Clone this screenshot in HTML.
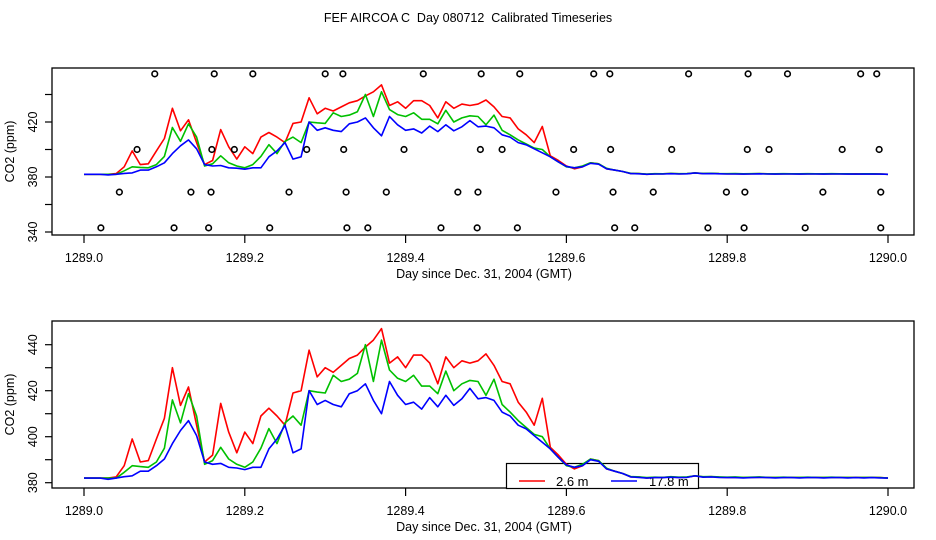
<!DOCTYPE html>
<html><head><meta charset="utf-8"><style>
html,body{margin:0;padding:0;background:#fff;}
svg{display:block;font-family:"Liberation Sans",sans-serif;}
</style></head><body>
<svg id="chart" width="936" height="540" viewBox="0 0 936 540" xmlns="http://www.w3.org/2000/svg">
<rect width="936" height="540" fill="#fff"/>
<text x="468" y="22" text-anchor="middle" font-size="12.5" xml:space="preserve">FEF AIRCOA C  Day 080712  Calibrated Timeseries</text>
<g id="top"></g>
<g id="bot"></g>
</svg>
<script>
const days = [];
for (let i = 0; i <= 100; i++) days.push(1289 + i / 100);
const red = [382,382,382,382,382.5,387.4,399,389,389.6,399,408,430,413.6,421.6,405,389,392,414.5,402,393,402,397,409,412.4,409,405,419,420,437.6,426,430,428,431,434,435.5,439,442,447,432,434.7,430,435.5,435.5,432,423,434.7,430,433,432,433,436,431,424,423,415,410.7,405,416.7,395.4,392,388,386,387.4,390.3,389.6,386,385,384,382.5,382.5,382,382.3,382.3,382.5,382.3,382.4,383,382.5,382.6,382.4,382.3,382.3,382.2,382.3,382.4,382.3,382.2,382.3,382.3,382.2,382.3,382.3,382.2,382.3,382.3,382.2,382.3,382.2,382.3,382.2,382];
const green = [382,382,382,382,382,384.5,387.4,387,386.7,389,395,416,406,418.7,409,388,389.6,395.4,390.3,388,386.7,389,395,403.5,397,406,409,405,420,419.4,419,426.7,424,425,427.5,440,424,442,429,425.4,424,426.7,422,422,418.7,428.5,420,423,424.5,424,418,425,414,410.7,407,404,401,400,394.7,391,387.4,386.7,388,390.3,389.6,386.3,385,384,382.7,382.5,382.2,382.4,382.3,382.6,382.4,382.5,383,382.6,382.7,382.5,382.4,382.5,382.3,382.4,382.5,382.3,382.3,382.4,382.3,382.3,382.4,382.3,382.3,382.4,382.3,382.3,382.2,382.3,382.3,382.2,382];
const blue = [382,382,382,381.5,382,382.6,383,385,385,387.4,390.3,397,402.7,407,400.5,389,388,388.4,386.7,386.4,385.7,386.7,386.7,394.7,399,405,393,394.7,420,414,415.8,414,413,418.7,420,423,415.8,410,424,418,414,415,412,417,413,418,413.6,416.5,421,416.5,417,415.8,410.7,409,405,403.4,400.5,397.6,394.7,391,387.7,386.7,387.4,390,389.3,386,385,384,382.5,382.3,382,382.2,382.2,382.4,382.2,382.3,383,382.4,382.5,382.3,382.2,382.2,382.1,382.2,382.3,382.2,382.1,382.2,382.2,382.1,382.2,382.2,382.1,382.2,382.2,382.1,382.2,382.1,382.2,382.1,382];
const ptDays455 = [1289.088,1289.162,1289.210,1289.300,1289.322,1289.422,1289.494,1289.542,1289.634,1289.654,1289.752,1289.826,1289.875,1289.966,1289.986];
const ptDays400 = [1289.066,1289.159,1289.187,1289.277,1289.323,1289.398,1289.493,1289.520,1289.609,1289.655,1289.731,1289.825,1289.852,1289.943,1289.989];
const ptDays369 = [1289.044,1289.133,1289.158,1289.255,1289.326,1289.376,1289.465,1289.490,1289.587,1289.658,1289.708,1289.799,1289.822,1289.919,1289.991];
const ptDays343 = [1289.021,1289.112,1289.155,1289.231,1289.327,1289.353,1289.444,1289.489,1289.539,1289.660,1289.685,1289.776,1289.821,1289.897,1289.991];
const xTicks = [1289.0,1289.2,1289.4,1289.6,1289.8,1290.0];
const xTickLabels = ["1289.0","1289.2","1289.4","1289.6","1289.8","1290.0"];
const topYTicks = [340,360,380,400,420,440];
const topYLabels = ["340","","380","","420",""];
const botYTicks = [380,390,400,410,420,430,440];
const botYLabels = ["380","","400","","420","","440"];

const NS = "http://www.w3.org/2000/svg";
function mk(tag, attrs, parent, txt) {
  const e = document.createElementNS(NS, tag);
  for (const k in attrs) e.setAttribute(k, attrs[k]);
  if (txt !== undefined) e.textContent = txt;
  parent.appendChild(e);
  return e;
}
const X0 = 84, X1 = 888;
const xs = d => X0 + (d - 1289) * (X1 - X0);

function panel(g, top, bot, yOf, yTicks, yLabels, points, before) {
  const box = mk('rect', {x:52, y:top, width:862, height:bot-top, fill:'none', stroke:'#000', 'stroke-width':1.3}, g);
  
  
  if (before) before(g);
  const cx = mk('clipPath', {id: 'clip' + top}, g);
  mk('rect', {x:52, y:top, width:862, height:bot-top}, cx);
  const series = [[red,'#ff0000','series-2-6m'],[green,'#00c000','series-mid-height'],[blue,'#0000ff','series-17-8m']];
  const sg = mk('g', {'clip-path': 'url(#clip' + top + ')'}, g);
  series.forEach(s => {
    const d = s[0].map((v,i) => (i ? 'L' : 'M') + xs(days[i]).toFixed(1) + ' ' + yOf(v).toFixed(1)).join(' ');
    const p = mk('path', {d:d, fill:'none', stroke:s[1], 'stroke-width':1.6, 'stroke-linejoin':'round'}, sg);
    
    
  });
  if (points) {
    points.forEach(pr => {
      pr[0].forEach(d => {
        const c = mk('circle', {cx:xs(d), cy:yOf(pr[1]), r:2.8, fill:'none', stroke:'#000', 'stroke-width':1.6}, g);
        
        
      });
    });
  }
  xTicks.forEach((t,i) => {
    mk('line', {x1:xs(t), x2:xs(t), y1:bot, y2:bot+8, stroke:'#000', 'stroke-width':1.2}, g);
    if (xTickLabels[i]) {
      const tl = mk('text', {x:xs(t), y:bot+27, 'text-anchor':'middle', 'font-size':12.5}, g, xTickLabels[i]);
      
      
    }
  });
  yTicks.forEach((t,i) => {
    mk('line', {x1:45, x2:52, y1:yOf(t), y2:yOf(t), stroke:'#000', 'stroke-width':1.2}, g);
    if (yLabels[i]) {
      const tl = mk('text', {x:0, y:0, 'text-anchor':'middle', 'font-size':12.5, transform:'translate(37,' + yOf(t) + ') rotate(-90)'}, g, yLabels[i]);
      
      
    }
  });
  const xt = mk('text', {x:484, y:bot+43, 'text-anchor':'middle', 'font-size':12.5}, g, 'Day since Dec. 31, 2004 (GMT)');
  
  
  const yt = mk('text', {x:0, y:0, 'text-anchor':'middle', 'font-size':12.5, transform:'translate(14,' + ((top+bot)/2) + ') rotate(-90)'}, g, 'CO2 (ppm)');
  
  
}

function legend(bg) {
  const lg = mk('g', {}, bg);
  
  
  mk('rect', {x:506.5, y:463.5, width:192, height:25, fill:'#fff', stroke:'#000', 'stroke-width':1.2}, lg);
  mk('line', {x1:519, x2:545, y1:481, y2:481, stroke:'#ff0000', 'stroke-width':1.5}, lg);
  const l1 = mk('text', {x:556, y:486, 'font-size':13}, lg, '2.6 m');
  
  
  mk('line', {x1:611, x2:637, y1:481, y2:481, stroke:'#0000ff', 'stroke-width':1.5}, lg);
  const l2 = mk('text', {x:649, y:486, 'font-size':13}, lg, '17.8 m');
  
  
}

const topY = v => 232 - (v - 340) * 1.375;
const botY = v => 482.7 - (v - 380) * 2.3;
panel(document.getElementById('top'), 68, 235, topY, topYTicks, topYLabels,
  [[ptDays455,455],[ptDays400,400],[ptDays369,369],[ptDays343,343]], null);
panel(document.getElementById('bot'), 321, 488, botY, botYTicks, botYLabels, null, legend);
</script>
</body></html>
